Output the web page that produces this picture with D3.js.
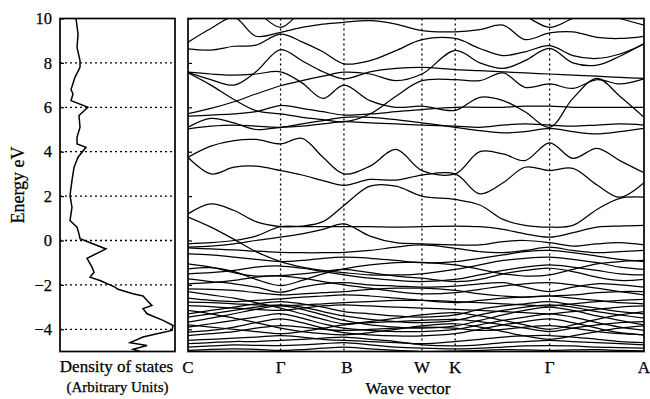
<!DOCTYPE html>
<html>
<head>
<meta charset="utf-8">
<script src="https://cdn.jsdelivr.net/npm/d3@7/dist/d3.min.js"></script>
<style>
  body { margin: 0; background: #fff; }
  text { font-family: "Liberation Serif", "Times New Roman", serif; fill: #000; stroke: #000; stroke-width: 0.25px; }
</style>
</head>
<body>
<div id="chart"></div>
<script>
// energy axis ticks (eV)
var energyTicks = [-4, -2, 0, 2, 4, 6, 8, 10];
var gridEnergies = [-4, -2, 0, 2, 4, 6, 8];

// high symmetry points along the path (normalised path length)
var kLabels = ["C", "Γ", "B", "W", "K", "Γ", "A"];
var kLabelPos = [0, 0.203, 0.342, 0.513, 0.586, 0.793, 1.0];

// sampled k positions for the bands
var kSamples = [0, 0.05, 0.101, 0.149, 0.203, 0.25, 0.296, 0.342, 0.399, 0.456,
                0.513, 0.586, 0.640, 0.691, 0.739, 0.793, 0.844, 0.897, 0.947, 1.0];

// density of states
var dosEnergy = [10, 9.3, 8.7, 8.1, 7.8, 7.35, 6.8, 6.6, 6.3, 6.0, 5.63, 5.1, 4.65, 4.35, 4.2,
                 3.75, 3.3, 2.7, 2.03, 1.5, 0.9, 0.6, 0.3, 0.08, -0.38, -0.8, -1.2, -1.43, -1.65,
                 -1.8, -2.1, -2.2, -2.4, -2.5, -2.7, -2.93, -3.07, -3.3, -3.6, -3.83, -4.05,
                 -4.2, -4.35, -4.6, -4.73, -4.9, -5.0];
var dosValue = [13.9, 15.7, 14.8, 17.4, 17.4, 13, 9.6, 11.3, 9.6, 24.3, 16.5, 17.4, 14.8, 14.8, 22.6,
                15.7, 12.2, 10.4, 8.7, 10.4, 8.7, 14.8, 16.5, 17.4, 40, 23.5, 27.8, 29.6, 26.1,
                34.8, 47.8, 50.4, 63.5, 72.2, 75.7, 80, 72.2, 75.7, 89.6, 98.3, 97.4,
                84.3, 72.2, 60.9, 75.7, 63.5, 69.6];

// bands (eV at each kSamples point)
var bandU0 = [10.8,10.7,10.6,10.3,9.6,10.3,10.5,10.6,10.5,10.4,10.5,10.7,10.6,10.4,10.1,9.6,10.0,10.3,10.0,9.7];
var bandU1 = [8.93,9.55,10.05,9.2,9.38,9.6,9.75,9.83,9.9,9.75,9.45,9.4,9.5,9.7,9.05,9.35,9.4,9.15,9.1,9.2];
var bandU2 = [8.63,8.58,8.75,8.8,9.3,8.95,8.5,7.96,8.1,8.55,9.05,9.1,8.65,8.33,8.5,8.78,8.33,8.2,8.4,8.85];
var bandU3 = [7.58,7.25,7.0,7.6,8.6,8.1,7.6,7.28,7.6,7.75,7.8,7.7,7.65,7.6,7.55,7.5,7.45,7.4,7.35,7.3];
var bandU4 = [5.71,5.95,6.25,6.6,6.97,7.2,7.4,7.58,7.5,7.2,7.5,8.56,8.0,7.75,8.1,8.65,8.0,7.9,8.3,8.87];
var bandU5 = [7.55,7.0,6.35,5.85,5.7,5.55,5.45,5.35,5.7,6.5,7.2,7.25,7.2,7.55,6.9,7.05,6.85,7.25,7.05,7.28];
var bandU6 = [5.6,5.65,5.7,5.8,6.08,5.95,5.8,5.65,5.7,5.8,5.9,6.0,6.0,6.0,6.05,6.05,6.0,6.0,6.0,6.0];
var bandU7 = [7.58,7.5,7.45,7.5,7.6,7.1,6.4,7.0,6.3,6.0,6.05,5.86,6.45,6.3,5.8,5.1,6.4,7.3,6.5,5.55];
var bandM1 = [3.75,4.25,4.5,4.55,4.35,4.6,3.75,3.0,3.35,4.1,3.15,3.0,4.0,3.9,3.6,4.4,3.7,4.15,3.6,3.05];
var bandM2 = [3.75,3.0,3.3,3.35,3.15,2.95,2.7,2.48,2.75,2.72,2.95,3.0,2.1,2.6,3.3,3.15,3.25,2.5,1.95,2.6];
var bandM3 = [5.1,5.5,5.3,5.0,5.1,5.15,5.25,5.35,5.3,5.25,5.2,5.15,5.1,5.2,5.25,5.2,5.15,5.2,5.25,5.2];
var bandM4 = [5.03,5.15,5.2,5.15,5.1,5.25,5.4,5.55,5.55,5.45,5.3,5.1,4.95,4.85,4.9,5.05,4.9,4.8,4.9,5.05];
var bandLa = [1.2,1.65,1.35,0.85,0.63,0.65,0.85,1.58,2.45,2.45,2.0,1.85,1.6,0.95,0.68,0.6,0.68,1.4,1.9,1.95];
var bandLb = [1.05,0.6,0.05,-0.5,-0.95,-1.2,-1.35,-1.45,-1.55,-1.55,-1.5,-1.3,-1.1,-0.9,-0.8,-0.75,-0.85,-1.0,-1.2,-1.3];
var bandLc = [-0.15,-0.1,0.0,0.2,0.62,0.62,0.62,0.62,0.62,0.6,0.62,0.65,0.62,0.5,0.3,0.15,0.35,0.6,0.65,0.68];
var bandLd = [-0.3,-0.25,-0.15,0.0,0.15,0.3,0.5,0.75,0.2,-0.1,-0.15,-0.2,-0.2,-0.05,0.0,-0.1,-0.25,-0.15,-0.1,-0.2];
var bandLe = [-0.33,-0.38,-0.42,-0.48,-0.53,-0.55,-0.55,-0.53,-0.45,-0.3,-0.2,-0.35,-0.5,-0.55,-0.45,-0.3,-0.45,-0.55,-0.5,-0.45];
var bandL1 = [-1.28,-1.22,-1.4,-1.75,-2.03,-1.8,-1.5,-1.28,-1.1,-1.0,-0.98,-1.1,-1.3,-1.5,-1.6,-1.55,-1.3,-1.05,-0.95,-0.9];
var bandL2 = [-1.05,-1.2,-1.45,-1.6,-1.58,-1.5,-1.4,-1.3,-1.45,-1.6,-1.7,-1.85,-1.75,-1.5,-1.35,-1.25,-1.4,-1.65,-1.8,-1.75];
var bandL3 = [-1.73,-1.85,-1.95,-2.1,-2.33,-2.1,-1.95,-1.9,-2.0,-2.05,-2.1,-2.05,-1.95,-1.9,-2.1,-2.3,-2.1,-1.95,-2.0,-2.1];
var bandL4 = [-2.18,-2.2,-2.25,-2.35,-2.45,-2.4,-2.35,-2.3,-2.2,-2.15,-2.15,-2.25,-2.4,-2.5,-2.55,-2.5,-2.45,-2.35,-2.3,-2.3];
var bandL5 = [-3.3,-3.15,-3.0,-2.85,-2.75,-2.85,-3.0,-3.2,-3.3,-3.4,-3.45,-3.35,-3.1,-2.95,-2.85,-2.75,-2.9,-3.05,-3.2,-3.3];
var bandL6 = [-3.45,-3.3,-3.15,-3.0,-2.9,-3.0,-3.2,-3.4,-3.55,-3.65,-3.7,-3.6,-3.35,-3.15,-3.0,-2.9,-3.0,-3.2,-3.35,-3.5];
var bandL7 = [-3.68,-3.5,-3.3,-3.1,-2.95,-3.1,-3.35,-3.6,-3.8,-3.9,-3.95,-3.85,-3.6,-3.35,-3.15,-3.0,-3.15,-3.4,-3.6,-3.8];
var bandL8 = [-2.78,-2.8,-2.85,-2.9,-2.93,-2.9,-2.85,-2.8,-2.75,-2.7,-2.7,-2.75,-2.8,-2.85,-2.9,-2.95,-2.85,-2.75,-2.7,-2.65];
var bandL9 = [-2.93,-2.98,-3.05,-3.1,-3.15,-3.05,-2.95,-2.9,-2.95,-3.0,-3.05,-3.1,-3.15,-3.2,-3.25,-3.3,-3.2,-3.1,-3.0,-2.95];
var bandL10 = [-3.9,-3.75,-3.6,-3.45,-3.3,-3.5,-3.75,-3.95,-4.05,-4.1,-4.1,-4.0,-3.8,-3.6,-3.45,-3.3,-3.45,-3.7,-3.9,-4.05];
var bandL11 = [-4.13,-4.05,-3.9,-3.7,-3.53,-3.7,-3.95,-4.15,-4.25,-4.3,-4.3,-4.2,-4.0,-3.8,-3.65,-3.53,-3.7,-3.95,-4.15,-4.25];
var bandL12 = [-4.28,-4.2,-4.1,-3.95,-3.83,-3.9,-4.0,-4.05,-4.0,-3.95,-3.9,-3.95,-4.05,-4.0,-3.9,-3.83,-3.95,-4.1,-4.2,-4.25];
var bandL13 = [-4.5,-4.45,-4.4,-4.35,-4.28,-4.35,-4.45,-4.5,-4.55,-4.6,-4.65,-4.55,-4.45,-4.35,-4.3,-4.28,-4.35,-4.45,-4.55,-4.6];
var bandL14 = [-4.65,-4.6,-4.55,-4.55,-4.5,-4.45,-4.4,-4.35,-4.45,-4.55,-4.7,-4.75,-4.7,-4.6,-4.55,-4.5,-4.55,-4.6,-4.65,-4.7];
var bandL15 = [-4.8,-4.75,-4.7,-4.72,-4.73,-4.7,-4.65,-4.6,-4.7,-4.8,-4.85,-4.88,-4.85,-4.8,-4.75,-4.73,-4.75,-4.8,-4.82,-4.85];
var bandL16 = [-4.95,-4.9,-4.88,-4.9,-4.95,-4.92,-4.85,-4.8,-4.88,-4.95,-5.0,-4.98,-4.95,-4.92,-4.93,-4.95,-4.93,-4.92,-4.95,-4.97];
var bandL17 = [-2.3,-2.45,-2.6,-2.8,-3.05,-3.3,-3.55,-3.75,-3.65,-3.5,-3.35,-3.25,-3.4,-3.6,-3.8,-4.0,-3.8,-3.55,-3.35,-3.2];
var bandL18 = [-3.15,-3.3,-3.5,-3.7,-3.95,-4.1,-4.2,-4.25,-4.15,-4.0,-3.85,-3.75,-3.9,-4.1,-4.3,-4.45,-4.3,-4.1,-3.95,-3.85];
var bandL19 = [-2.6,-2.7,-2.75,-2.7,-2.63,-2.55,-2.5,-2.45,-2.5,-2.6,-2.7,-2.8,-2.7,-2.6,-2.55,-2.5,-2.6,-2.7,-2.8,-2.85];
var bandL20 = [-3.8,-3.9,-4.0,-4.1,-4.2,-4.1,-3.95,-3.8,-3.7,-3.65,-3.6,-3.55,-3.65,-3.8,-3.95,-4.1,-3.95,-3.8,-3.7,-3.65];
var bandL21 = [-0.6,-0.65,-0.75,-0.85,-0.95,-0.9,-0.8,-0.75,-0.8,-0.9,-1.0,-0.95,-0.8,-0.65,-0.5,-0.45,-0.55,-0.7,-0.85,-0.95];
var bandL22 = [-1.5,-1.45,-1.35,-1.2,-1.15,-1.25,-1.4,-1.55,-1.7,-1.8,-1.85,-1.75,-1.55,-1.35,-1.2,-1.1,-1.2,-1.35,-1.5,-1.55];
var bandL23 = [-1.95,-1.9,-1.8,-1.65,-1.6,-1.7,-1.85,-2.0,-2.15,-2.3,-2.4,-2.35,-2.2,-2.05,-1.95,-1.9,-2.0,-2.15,-2.3,-2.45];

var bands = [bandU0, bandU1, bandU2, bandU3, bandU4, bandU5, bandU6, bandU7,
             bandM1, bandM2, bandM3, bandM4,
             bandLa, bandLb, bandLc, bandLd, bandLe,
             bandL1, bandL2, bandL3, bandL4, bandL5, bandL6, bandL7, bandL8, bandL9, bandL10,
             bandL11, bandL12, bandL13, bandL14, bandL15, bandL16, bandL17, bandL18, bandL19,
             bandL20, bandL21, bandL22, bandL23];

var svgWidth = 650, svgHeight = 399;
var plotTop = 18.5, plotBottom = 351.5;
var dosLeft = 60, dosRight = 175;
var bandLeft = 188, bandRight = 644;

var svg = d3.select("#chart").append("svg")
  .attr("width", svgWidth)
  .attr("height", svgHeight);

var y = d3.scaleLinear().domain([-5, 10]).range([plotBottom, plotTop]);
var xDos = d3.scaleLinear().domain([0, 100]).range([dosLeft, dosRight]);
var xK = d3.scaleLinear().domain([0, 1]).range([bandLeft, bandRight]);

// clip paths
var defs = svg.append("defs");
defs.append("clipPath").attr("id", "clipDos").append("rect")
  .attr("x", dosLeft).attr("y", plotTop).attr("width", dosRight - dosLeft).attr("height", plotBottom - plotTop);
defs.append("clipPath").attr("id", "clipBand").append("rect")
  .attr("x", bandLeft).attr("y", plotTop).attr("width", bandRight - bandLeft).attr("height", plotBottom - plotTop);

// ---- DOS panel ----
var gDos = svg.append("g");

gDos.selectAll("line.grid")
  .data(gridEnergies)
  .enter().append("line")
  .attr("class", "grid")
  .attr("x1", dosLeft).attr("x2", dosRight)
  .attr("y1", function (d) { return y(d); })
  .attr("y2", function (d) { return y(d); })
  .attr("stroke", "#000")
  .attr("stroke-width", 1.3)
  .attr("stroke-dasharray", "2,3");

var yAxis = d3.axisLeft(y).tickValues(energyTicks)
  .tickSize(-4).tickPadding(8)
  .tickFormat(function (d) { return d < 0 ? "\u2212" + Math.abs(d) : d; });
gDos.append("g")
  .attr("transform", "translate(" + dosLeft + ",0)")
  .call(yAxis)
  .call(function (g) {
    g.select(".domain").remove();
    g.selectAll("line").attr("stroke-width", 1.2);
    g.selectAll("text").attr("font-size", "16.5px")
      .attr("font-family", "'Liberation Serif', serif");
  });

var dosData = dosEnergy.map(function (e, i) { return { e: e, v: dosValue[i] }; });
var dosLine = d3.line()
  .x(function (d) { return xDos(d.v); })
  .y(function (d) { return y(d.e); });
gDos.append("path")
  .attr("clip-path", "url(#clipDos)")
  .attr("d", dosLine(dosData))
  .attr("fill", "none")
  .attr("stroke", "#000")
  .attr("stroke-width", 1.5);

gDos.append("rect")
  .attr("x", dosLeft).attr("y", plotTop)
  .attr("width", dosRight - dosLeft).attr("height", plotBottom - plotTop)
  .attr("fill", "none").attr("stroke", "#000").attr("stroke-width", 1.7);

// ---- band panel ----
var gBand = svg.append("g");

// vertical dotted lines at inner symmetry points
gBand.selectAll("line.kline")
  .data(kLabelPos.slice(1, -1))
  .enter().append("line")
  .attr("class", "kline")
  .attr("x1", function (d) { return xK(d); })
  .attr("x2", function (d) { return xK(d); })
  .attr("y1", plotTop).attr("y2", plotBottom)
  .attr("stroke", "#000")
  .attr("stroke-width", 1.3)
  .attr("stroke-dasharray", "2,3");

var bandLine = d3.line()
  .x(function (d, i) { return xK(kSamples[i]); })
  .y(function (d) { return y(d); })
  .curve(d3.curveCatmullRom.alpha(0.5));

gBand.append("g")
  .attr("clip-path", "url(#clipBand)")
  .selectAll("path")
  .data(bands)
  .enter().append("path")
  .attr("d", function (d) { return bandLine(d); })
  .attr("fill", "none")
  .attr("stroke", "#000")
  .attr("stroke-width", 1.25);

// small ticks on left edge of the band panel
gBand.append("g")
  .attr("transform", "translate(" + bandLeft + ",0)")
  .call(d3.axisRight(y).tickValues(energyTicks).tickSize(4).tickFormat(""))
  .call(function (g) {
    g.select(".domain").remove();
    g.selectAll("line").attr("stroke-width", 1.2);
  });

gBand.append("rect")
  .attr("x", bandLeft).attr("y", plotTop)
  .attr("width", bandRight - bandLeft).attr("height", plotBottom - plotTop)
  .attr("fill", "none").attr("stroke", "#000").attr("stroke-width", 1.7);

// k-point labels
gBand.selectAll("text.klabel")
  .data(kLabels)
  .enter().append("text")
  .attr("class", "klabel")
  .attr("x", function (d, i) { return xK(kLabelPos[i]) + (i === 2 ? 3 : 0); })
  .attr("y", 373)
  .attr("text-anchor", "middle")
  .attr("font-size", "17px")
  .text(function (d) { return d; });

// axis titles
svg.append("text")
  .attr("transform", "translate(24,185) rotate(-90)")
  .attr("text-anchor", "middle")
  .attr("font-size", "18px")
  .text("Energy eV");

svg.append("text")
  .attr("x", (dosLeft + dosRight) / 2 - 1)
  .attr("y", 372)
  .attr("text-anchor", "middle")
  .attr("font-size", "17px")
  .text("Density of states");

svg.append("text")
  .attr("x", (dosLeft + dosRight) / 2)
  .attr("y", 392)
  .attr("text-anchor", "middle")
  .attr("font-size", "15px")
  .text("(Arbitrary Units)");

svg.append("text")
  .attr("x", 408)
  .attr("y", 394)
  .attr("text-anchor", "middle")
  .attr("font-size", "17px")
  .text("Wave vector");
</script>
</body>
</html>
